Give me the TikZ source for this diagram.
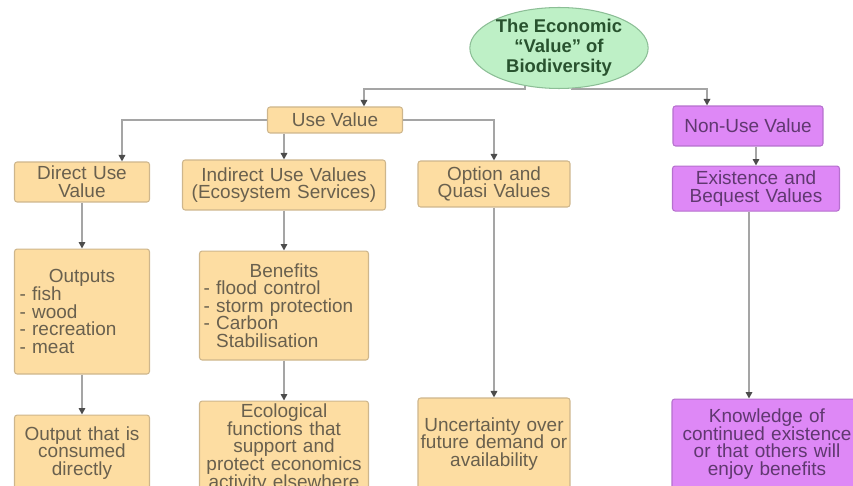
\documentclass[tikz,border=0pt]{standalone}
\usepackage{fontspec}
\setmainfont{Liberation Sans}
\usetikzlibrary{positioning,shapes.geometric,arrows.meta}

\definecolor{usefill}{RGB}{253,221,162}
\definecolor{usedraw}{RGB}{206,182,140}
\definecolor{usetext}{RGB}{105,96,78}
\definecolor{nonfill}{RGB}{222,136,246}
\definecolor{nondraw}{RGB}{182,112,206}
\definecolor{nontext}{RGB}{96,56,112}
\definecolor{ecofill}{RGB}{190,240,198}
\definecolor{ecodraw}{RGB}{140,190,150}
\definecolor{ecotext}{RGB}{40,82,46}
\definecolor{linkgray}{RGB}{165,165,165}

\newcommand{\tightlines}{\lineskiplimit=-10pt\relax}

\begin{document}
\begin{tikzpicture}[
            x=0.02cm, y=-0.02cm,
            block/.style={rectangle, rounded corners=1.5pt, line width=0.6pt, inner xsep=0.05cm, inner ysep=1pt, align=center, font=\fontsize{10.8}{10}\selectfont\tightlines},
            usebox/.style={block, draw=usedraw, fill=usefill, text=usetext},
            nonusebox/.style={block, draw=nondraw, fill=nonfill, text=nontext},
            rootnode/.style={ellipse, draw=ecodraw, fill=ecofill, text=ecotext, line width=0.6pt, inner sep=0pt, align=center, font=\bfseries\fontsize{10.5}{11.4}\selectfont\tightlines},
            link/.style={draw=linkgray, line width=0.9pt, -{Triangle[length=1.3mm, width=1.3mm, color=black!70]}}
        ]

        \useasboundingbox (0,0) rectangle (853,486);
        \clip (0,0) rectangle (853,486);

        %root
        \node[rootnode, minimum width=3.12cm, minimum height=1.44cm] (eco) at (559,48) {The Economic\\``Value'' of\\Biodiversity};
        \coordinate (fork) at (0,89);

        %value classes
        \node[usebox, minimum width=2.7cm, minimum height=0.52cm]      (use)    at (335,120) {Use Value};
        \node[nonusebox, minimum width=3cm, minimum height=0.8cm]      (nonuse) at (748,126) {Non-Use Value};

        %use value branches
        \node[usebox, minimum width=2.7cm, minimum height=0.8cm, text width=2.6cm]    (direct)   at (82,182)  {Direct Use\\Value};
        \node[usebox, minimum width=4.06cm, minimum height=1cm, text width=3.96cm]    (indirect) at (284,185) {Indirect Use Values\\(Ecosystem Services)};
        \node[usebox, minimum width=3.04cm, minimum height=0.92cm, text width=2.94cm] (option)   at (494,184) {Option and\\Quasi Values};
        \node[nonusebox, minimum width=3.34cm, minimum height=0.9cm, text width=3.24cm] (exist) [below=0.38cm of nonuse, xshift=0.16cm] {Existence and\\Bequest Values};

        %details
        \node[usebox, minimum width=2.7cm, minimum height=2.5cm, inner xsep=0.1cm, text width=2.5cm, align=left]
            (outputs) [below=0.92cm of direct] {\hfill Outputs\hfill\mbox{}\\- fish\\- wood\\- recreation\\- meat};
        \node[usebox, minimum width=3.38cm, minimum height=2.18cm, inner xsep=0.08cm, text width=3.22cm, align=left]
            (benefits) [below=0.8cm of indirect] {\hfill Benefits\hfill\mbox{}\\- flood control\\- storm protection\\- Carbon\\\phantom{- }Stabilisation};

        %outcomes
        \node[usebox, minimum width=2.7cm, minimum height=1.52cm, text width=2.6cm]      (consumed)    [below=0.8cm of outputs]  {Output that is\\consumed\\directly};
        \node[usebox, minimum width=3.38cm, minimum height=1.88cm, text width=3.28cm]    (ecological)  [below=0.8cm of benefits] {Ecological\\functions that\\support and\\protect economics\\activity elsewhere};
        \node[usebox, minimum width=3.04cm, minimum height=1.84cm, text width=2.94cm]    (uncertainty) [below=3.8cm of option]   {Uncertainty over\\future demand or\\availability};
        \node[nonusebox, minimum width=3.8cm, minimum height=1.8cm, text width=3.7cm]    (knowledge)   [below=3.74cm of exist, xshift=0.22cm] {Knowledge of\\continued existence\\or that others will\\enjoy benefits};

        %arrows
        \draw[link] (eco.228) -- (eco.228 |- fork) -| ([xshift=0.58cm]use.north);
        \draw[link] (eco.288) -- (eco.288 |- fork) -| ([xshift=-0.82cm]nonuse.north);
        \draw[link] (use.west) -| ([xshift=0.8cm]direct.north);
        \draw[link] (use.south -| indirect.north) -- (indirect.north);
        \draw[link] (use.east) -| (option.north);
        \draw[link] (nonuse.south -| exist.north) -- (exist.north);
        \draw[link] (direct) -- (outputs);
        \draw[link] (outputs) -- (consumed);
        \draw[link] (indirect) -- (benefits);
        \draw[link] (benefits) -- (ecological);
        \draw[link] (option) -- (uncertainty);
        \draw[link] ([xshift=-0.14cm]exist.south) -- ([xshift=-0.14cm]exist.south |- knowledge.north);

        \end{tikzpicture}
\end{document}
